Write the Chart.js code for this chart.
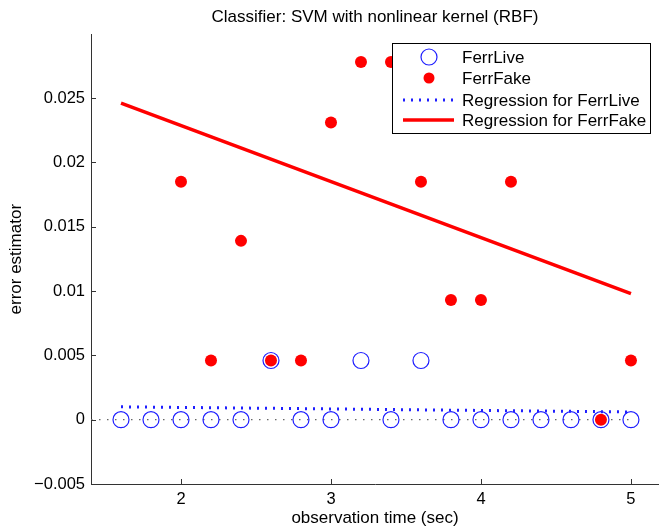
<!DOCTYPE html>
<html>
<head>
<meta charset="utf-8">
<script src="https://cdn.jsdelivr.net/npm/chart.js@4/dist/chart.umd.min.js"></script>
<style>
  html, body { margin: 0; padding: 0; background: #fff; overflow: hidden; }
  #wrap { position: relative; width: 659px; height: 529px; }
</style>
</head>
<body>
<div id="wrap"><canvas id="chart"></canvas></div>
<script>
// observation times (sec)
const times = [1.6, 1.8, 2.0, 2.2, 2.4, 2.6, 2.8, 3.0, 3.2, 3.4, 3.6, 3.8, 4.0, 4.2, 4.4, 4.6, 4.8, 5.0];
const ferrLive = [0, 0, 0, 0, 0, 0.0046, 0, 0, 0.0046, 0, 0.0046, 0, 0, 0, 0, 0, 0, 0];
// 1.6/1.8 are above the visible range, 4.4/4.6 sit behind the legend (estimated)
const ferrFake = [0.037, 0.042, 0.0185, 0.0046, 0.0139, 0.0046, 0.0046, 0.0231, 0.0278, 0.0278,
                  0.0185, 0.0093, 0.0093, 0.0185, 0.0231, 0.0231, 0, 0.0046];

// regression lines, read at their end points
const regTimes = [1.6, 5.0];
const regLive = [0.001, 0.0006];
const regFake = [0.0246, 0.0098];

// dotted zero reference
const zeroTimes = [1.4, 5.0];
const zeroValues = [0, 0];

const yTicks = [-0.005, 0, 0.005, 0.01, 0.015, 0.02, 0.025];
const xTicks = [2, 3, 4, 5];

const legendLabels = ['FerrLive', 'FerrFake', 'Regression for FerrLive', 'Regression for FerrFake'];

const FONT = '"Liberation Sans", Arial, Helvetica, sans-serif';
const BLUE = 'rgb(30,30,255)';
const DOT = [2, 6];
const pts = (xs, ys) => xs.map((x, i) => ({ x: x, y: ys[i] }));

const fmt = v => {
  const s = parseFloat(v.toFixed(4)).toString();
  return s.replace('-', '\u2212');
};

// MATLAB style ticks pointing inwards
const innerTicks = {
  id: 'innerTicks',
  afterDatasetsDraw(chart) {
    const { ctx, chartArea, scales } = chart;
    ctx.save();
    ctx.strokeStyle = '#333';
    ctx.lineWidth = 1;
    ctx.beginPath();
    xTicks.forEach(t => {
      const px = Math.round(scales.x.getPixelForValue(t)) + 0.5;
      ctx.moveTo(px, chartArea.bottom);
      ctx.lineTo(px, chartArea.bottom - 5);
    });
    yTicks.forEach(t => {
      const py = Math.round(scales.y.getPixelForValue(t)) + 0.5;
      ctx.moveTo(chartArea.left, py);
      ctx.lineTo(chartArea.left + 5, py);
    });
    ctx.stroke();
    ctx.restore();
  }
};

// boxed legend inside the axes, upper right
const boxLegend = {
  id: 'boxLegend',
  afterDraw(chart) {
    const ctx = chart.ctx;
    const x0 = 392.5, y0 = 43.5, w = 258, h = 90;
    ctx.save();
    ctx.fillStyle = '#fff';
    ctx.fillRect(x0, y0, w, h);
    ctx.strokeStyle = '#000';
    ctx.lineWidth = 1;
    ctx.strokeRect(x0, y0, w, h);

    const rows = [57, 78, 100, 120];
    const mx = 429, tx = 462;
    // FerrLive marker
    ctx.beginPath();
    ctx.arc(mx, rows[0], 8, 0, Math.PI * 2);
    ctx.strokeStyle = BLUE;
    ctx.lineWidth = 1.2;
    ctx.stroke();
    // FerrFake marker
    ctx.beginPath();
    ctx.arc(mx, rows[1], 5.5, 0, Math.PI * 2);
    ctx.fillStyle = '#ff0000';
    ctx.fill();
    // live regression sample
    ctx.beginPath();
    ctx.setLineDash(DOT);
    ctx.strokeStyle = BLUE;
    ctx.lineWidth = 3;
    ctx.moveTo(403, rows[2]);
    ctx.lineTo(455, rows[2]);
    ctx.stroke();
    // fake regression sample
    ctx.beginPath();
    ctx.setLineDash([]);
    ctx.strokeStyle = '#ff0000';
    ctx.lineWidth = 3.5;
    ctx.moveTo(403, rows[3]);
    ctx.lineTo(454, rows[3]);
    ctx.stroke();

    ctx.fillStyle = '#000';
    ctx.font = '17px ' + FONT;
    ctx.textBaseline = 'middle';
    ctx.textAlign = 'left';
    legendLabels.forEach((l, i) => ctx.fillText(l, tx, rows[i] + 1));
    ctx.restore();
  }
};

new Chart(document.getElementById('chart'), {
  type: 'scatter',
  data: {
    datasets: [
      {
        label: 'zero',
        data: pts(zeroTimes, zeroValues),
        showLine: true,
        borderColor: '#666',
        borderWidth: 1.2,
        borderDash: [1.5, 6.5],
        pointRadius: 0,
        order: 5
      },
      {
        label: legendLabels[0],
        data: pts(times, ferrLive),
        pointStyle: 'circle',
        pointRadius: 8,
        pointBorderWidth: 1.2,
        pointBorderColor: BLUE,
        pointBackgroundColor: 'rgba(0,0,0,0)',
        order: 4
      },
      {
        label: legendLabels[2],
        data: pts(regTimes, regLive),
        showLine: true,
        borderColor: BLUE,
        borderWidth: 3,
        borderDash: DOT,
        pointRadius: 0,
        order: 3
      },
      {
        label: legendLabels[1],
        data: pts(times, ferrFake),
        pointRadius: 6,
        pointBorderWidth: 0,
        pointBackgroundColor: '#ff0000',
        order: 2
      },
      {
        label: legendLabels[3],
        data: pts(regTimes, regFake),
        showLine: true,
        borderColor: '#ff0000',
        borderWidth: 3.5,
        pointRadius: 0,
        order: 1
      }
    ]
  },
  options: {
    responsive: true,
    maintainAspectRatio: false,
    animation: false,
    layout: { autoPadding: false, padding: 0 },
    plugins: {
      legend: { display: false },
      tooltip: { enabled: false },
      title: {
        display: true,
        fullSize: false,
        text: 'Classifier: SVM with nonlinear kernel (RBF)',
        color: '#000',
        font: { family: FONT, size: 17, weight: 'normal' },
        padding: { top: 7, bottom: 7 }
      }
    },
    scales: {
      x: {
        type: 'linear',
        min: 1.4,
        max: 5.187,
        afterBuildTicks: s => { s.ticks = xTicks.map(v => ({ value: v })); },
        afterFit: s => { s.height = 45; },
        grid: { display: false, drawTicks: false },
        border: { display: true, color: '#333', width: 1 },
        ticks: {
          color: '#000',
          font: { family: FONT, size: 16.5 },
          padding: 6,
          maxRotation: 0,
          callback: v => fmt(v)
        },
        title: {
          display: true,
          text: 'observation time (sec)',
          color: '#000',
          font: { family: FONT, size: 17 },
          padding: { top: 0, bottom: 0 }
        }
      },
      y: {
        type: 'linear',
        min: -0.005,
        max: 0.02995,
        afterBuildTicks: s => { s.ticks = yTicks.map(v => ({ value: v })); },
        afterFit: s => { s.width = 91; },
        grid: { display: false, drawTicks: false },
        border: { display: true, color: '#333', width: 1 },
        ticks: {
          color: '#000',
          font: { family: FONT, size: 16.5 },
          padding: 6,
          callback: v => fmt(v)
        },
        title: {
          display: true,
          text: 'error estimator',
          color: '#000',
          font: { family: FONT, size: 17 },
          padding: { top: 6, bottom: 0 }
        }
      }
    }
  },
  plugins: [innerTicks, boxLegend]
});
</script>
</body>
</html>
